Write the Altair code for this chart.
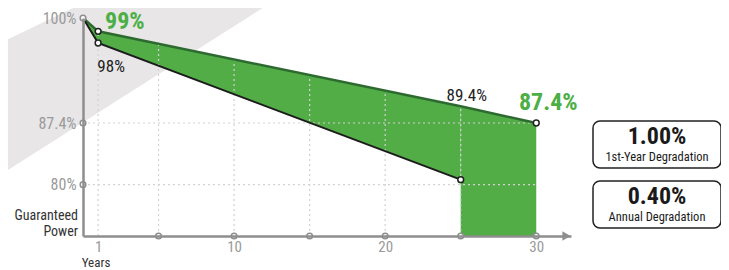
import altair as alt
import pandas as pd
import numpy as np

# ---- data ----
years_top = [0, 1, 25, 30]
power_top = [100, 98.4, 89.4, 87.4]      # product warranty line
years_std = [0, 1, 25]
power_std = [100, 97.0, 80.6]            # lower (standard) line

y_ticks = [100, 87.4, 80]
x_labels = [1, 10, 20, 30]
x_marks = [5, 10, 15, 20, 25, 30]
grid_years = [1, 5, 10, 15, 20, 25]
h_grid = [87.4, 80]

callout_text = ["99%", "98%", "89.4%", "87.4%"]
box_values = ["1.00%", "0.40%"]
box_captions = ["1st-Year Degradation", "Annual Degradation"]

FONT = "Roboto Condensed, Liberation Sans Narrow, Arial Narrow, Roboto, sans-serif"
XMAX = 32.3
YMIN = 73.84
GREEN = "#52ad47"
DKGREEN = "#2d6a2f"
GRAY = "#8e8e8e"
LBL = "#9a9a9a"

xs = alt.Scale(domain=[0, XMAX], nice=False, zero=False)
ys = alt.Scale(domain=[YMIN, 100], nice=False, zero=False)
xaxis = alt.Axis(values=x_labels, grid=False, ticks=False, domainColor=GRAY,
                 domainWidth=2.5, labelColor=LBL, labelFontSize=15, labelFont=FONT,
                 labelPadding=3, title=None, zindex=1)
yaxis = alt.Axis(values=y_ticks, grid=False, ticks=False, domainColor=GRAY,
                 domainWidth=2.5, labelColor=LBL, labelFontSize=16, labelFont=FONT,
                 labelPadding=7, title=None, labelExpr="datum.value + '%'", zindex=1)

def X(f="x"):
    return alt.X(f, type="quantitative", scale=xs, axis=xaxis)

def Y(f="y"):
    return alt.Y(f, type="quantitative", scale=ys, axis=yaxis)

# background band (decoration), converted from page geometry to data units
def px2yr(px):
    return (px - 83) / 15.1

def py2pct(py):
    return 100 - (py - 18) / 8.333

band = pd.DataFrame({
    "x": [px2yr(-10), px2yr(300)],
    "y": [py2pct(43 + 0.48 * 10), py2pct(43 - 0.48 * 300)],
    "y2": [py2pct(175 + 0.636 * 10), py2pct(175 - 0.636 * 300)],
})
band_layer = alt.Chart(band).mark_area(color="#e8e6e7").encode(
    x=X(), y=Y(), y2="y2")

top_df = pd.DataFrame({"x": years_top, "y": power_top})
std_df = pd.DataFrame({"x": years_std, "y": power_std})

fill1 = pd.DataFrame({"x": years_std, "y": power_top[:3], "y2": power_std})
fill2 = pd.DataFrame({"x": years_top[2:], "y": power_top[2:], "y2": [YMIN, YMIN]})
fill_layers = [
    alt.Chart(fill1).mark_area(color=GREEN).encode(x=X(), y=Y(), y2="y2"),
    alt.Chart(fill2).mark_area(color=GREEN).encode(x=X(), y=Y(), y2="y2"),
]

grid_top = np.interp(grid_years, years_top, power_top)
vgrid = pd.DataFrame({"x": grid_years, "y": [YMIN] * len(grid_years), "y2": grid_top})
hgrid = pd.DataFrame({"x": [0] * len(h_grid), "x2": [30] * len(h_grid), "y": h_grid})
grid_layers = [
    alt.Chart(vgrid).mark_rule(color="#d2d2d2", strokeDash=[2, 3], strokeWidth=1.2).encode(
        x=X(), y=Y(), y2="y2"),
    alt.Chart(hgrid).mark_rule(color="#d2d2d2", strokeDash=[2, 3], strokeWidth=1.2).encode(
        x=X(), x2="x2", y=Y()),
]

lines = [
    alt.Chart(top_df).mark_line(color=DKGREEN, strokeWidth=2.5).encode(x=X(), y=Y()),
    alt.Chart(std_df).mark_line(color="#1c1c1c", strokeWidth=2).encode(x=X(), y=Y()),
]

arrow = alt.Chart(pd.DataFrame({"x": [XMAX - 0.3], "y": [YMIN]})).mark_point(
    shape="triangle-right", filled=True, color=GRAY, size=90, opacity=1).encode(x=X(), y=Y())

axis_pts = pd.DataFrame({"x": x_marks + [0] * len(y_ticks),
                         "y": [YMIN] * len(x_marks) + y_ticks})
axis_marks = alt.Chart(axis_pts).mark_point(
    filled=True, fill="white", stroke=GRAY, strokeWidth=1.5, size=32, opacity=1).encode(
    x=X(), y=Y())

key_pts = pd.DataFrame({"x": [1, 1, 25, 30],
                        "y": [power_top[1], power_std[1], power_std[2], power_top[3]]})
key_marks = alt.Chart(key_pts).mark_point(
    filled=True, fill="white", stroke="#222222", strokeWidth=1.5, size=34, opacity=1).encode(
    x=X(), y=Y())

# callout labels
callout_x = [1, 1, 25, 30]
callout_y = [power_top[1], power_std[1], power_top[2], power_top[3]]
styles = [
    dict(dx=7, dy=-9, align="left", fontSize=24, fontWeight="bold", color="#4caf45"),
    dict(dx=13, dy=24, align="center", fontSize=17, fontWeight="normal", color="#222222"),
    dict(dx=6, dy=-10, align="center", fontSize=17, fontWeight="normal", color="#222222"),
    dict(dx=12, dy=-20, align="center", fontSize=24, fontWeight="bold", color="#4caf45"),
]
callouts = []
for i, st in enumerate(styles):
    d = pd.DataFrame({"x": [callout_x[i]], "y": [callout_y[i]], "t": [callout_text[i]]})
    callouts.append(alt.Chart(d).mark_text(font=FONT, baseline="middle", **st).encode(
        x=X(), y=Y(), text="t:N"))

one = alt.Data(values=[{}])
extra = [
    alt.Chart(one).mark_text(font=FONT, fontSize=14, color="#333333", align="right",
                             baseline="middle").encode(
        x=alt.value(-5), y=alt.value(198), text=alt.value("Guaranteed")),
    alt.Chart(one).mark_text(font=FONT, fontSize=14, color="#333333", align="right",
                             baseline="middle").encode(
        x=alt.value(-5), y=alt.value(214), text=alt.value("Power")),
    alt.Chart(one).mark_text(font=FONT, fontSize=13, color="#333333", align="center",
                             baseline="middle").encode(
        x=alt.value(13), y=alt.value(245), text=alt.value("Years")),
]
boxes = []
for i in range(2):
    top = 103 + i * 60
    boxes.append(alt.Chart(one).mark_rect(fill="white", stroke="#222222", strokeWidth=1.5,
                                          cornerRadius=7).encode(
        x=alt.value(510), x2=alt.value(638), y=alt.value(top), y2=alt.value(top + 47)))
    boxes.append(alt.Chart(one).mark_text(font=FONT, fontSize=24, fontWeight="bold",
                                          color="#1a1a1a", baseline="middle").encode(
        x=alt.value(574), y=alt.value(top + 16), text=alt.value(box_values[i])))
    boxes.append(alt.Chart(one).mark_text(font=FONT, fontSize=12.5, color="#1a1a1a",
                                          baseline="middle").encode(
        x=alt.value(574), y=alt.value(top + 36), text=alt.value(box_captions[i])))

chart = alt.layer(
    band_layer, *fill_layers, *grid_layers, *lines, arrow, axis_marks, key_marks,
    *callouts, *extra, *boxes
).properties(
    width=488, height=218,
    autosize=alt.AutoSizeParams(type="none"),
    padding={"left": 75, "top": 10, "right": 150, "bottom": 36},
    background="white",
).configure_view(stroke=None)

chart.save("out.html", embed_options={"renderer": "svg", "actions": False})
